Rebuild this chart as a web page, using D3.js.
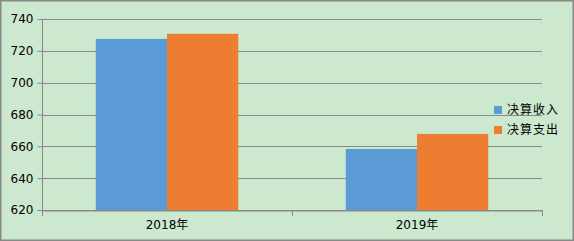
<!DOCTYPE html>
<html>
<head>
<meta charset="utf-8">
<script src="https://cdn.jsdelivr.net/npm/d3@7"></script>
<style>
  html, body { margin: 0; padding: 0; background: #fff; }
  svg { display: block; }
</style>
</head>
<body>
<div id="chart"></div>
<script>
// data
var years     = ['2018年', '2019年'];
var seriesNames = ['决算收入', '决算支出'];
var income    = [727.5, 658.3];
var expense   = [730.7, 667.8];
var yTicks    = [620, 640, 660, 680, 700, 720, 740];
var colors    = ['#5B9BD5', '#ED7D31'];

var width  = 574
  , height = 241
  , margin = { top: 19, right: 32, bottom: 31, left: 42 }
  , grid   = '#898989'
;

var svg = d3.select('#chart').append('svg')
    .attr('width', width)
    .attr('height', height);

// background + frame
svg.append('rect')
    .attr('x', 0.75).attr('y', 0.75)
    .attr('width', width - 1.5).attr('height', height - 1.5)
    .attr('fill', '#CCE8CF')
    .attr('stroke', grid)
    .attr('stroke-width', 1.5);

var x = d3.scaleBand()
    .domain(years)
    .range([margin.left, width - margin.right]);

var x1 = d3.scaleBand()
    .domain(seriesNames)
    .range([0, x.bandwidth()])
    .paddingOuter(0.755);

var y = d3.scaleLinear()
    .domain([620, 740])
    .range([height - margin.bottom, margin.top]);

// gridlines
svg.append('g')
    .selectAll('line')
    .data(yTicks)
    .enter().append('line')
    .attr('x1', margin.left).attr('x2', width - margin.right)
    .attr('y1', function (d) { return Math.round(y(d)) + 0.5; })
    .attr('y2', function (d) { return Math.round(y(d)) + 0.5; })
    .attr('stroke', grid);

// bars
var rows = years.map(function (yr, i) {
  return [
    { year: yr, name: seriesNames[0], value: income[i] },
    { year: yr, name: seriesNames[1], value: expense[i] }
  ];
});

svg.append('g')
    .selectAll('g')
    .data(rows)
    .enter().append('g')
    .attr('transform', function (d) { return 'translate(' + x(d[0].year) + ',0)'; })
    .selectAll('rect')
    .data(function (d) { return d; })
    .enter().append('rect')
    .attr('x', function (d) { return x1(d.name); })
    .attr('width', x1.bandwidth())
    .attr('y', function (d) { return y(d.value); })
    .attr('height', function (d) { return y(620) - y(d.value); })
    .attr('fill', function (d, i) { return colors[i]; });

// y axis
var yAxis = svg.append('g')
    .attr('transform', 'translate(' + (margin.left + 0.5) + ',0)')
    .call(d3.axisLeft(y).tickValues(yTicks).tickSize(5).tickPadding(4));
yAxis.select('.domain').attr('stroke', grid).attr('d', 'M0,' + margin.top + 'V' + (height - margin.bottom));
yAxis.selectAll('.tick line').attr('stroke', grid);
yAxis.selectAll('text')
    .attr('fill', '#000')
    .style('font', '12px "DejaVu Sans", sans-serif');

// x axis
var xAxis = svg.append('g')
    .attr('transform', 'translate(0,' + (Math.round(y(620)) + 0.5) + ')')
    .call(d3.axisBottom(x).tickSize(0).tickPadding(10));
xAxis.select('.domain').attr('stroke', grid);
xAxis.selectAll('text')
    .attr('fill', '#000')
    .style('font', '12px "DejaVu Sans", "Noto Sans CJK SC", sans-serif');

// category boundary ticks
var edges = [x.range()[0], x(years[1]), x.range()[1]];
svg.append('g')
    .selectAll('line')
    .data(edges)
    .enter().append('line')
    .attr('x1', function (d) { return Math.round(d) + 0.5; })
    .attr('x2', function (d) { return Math.round(d) + 0.5; })
    .attr('y1', Math.round(y(620)))
    .attr('y2', Math.round(y(620)) + 6)
    .attr('stroke', grid);

// legend
var legend = svg.append('g')
    .selectAll('g')
    .data(seriesNames)
    .enter().append('g')
    .attr('transform', function (d, i) { return 'translate(494,' + (106 + i * 20) + ')'; });

legend.append('rect')
    .attr('width', 8).attr('height', 8)
    .attr('fill', function (d, i) { return colors[i]; });

legend.append('text')
    .attr('x', 13).attr('y', 4)
    .attr('dy', '0.35em')
    .style('font', '12px "Noto Sans CJK SC", sans-serif')
    .style('letter-spacing', '1px')
    .text(function (d) { return d; });
</script>
</body>
</html>
